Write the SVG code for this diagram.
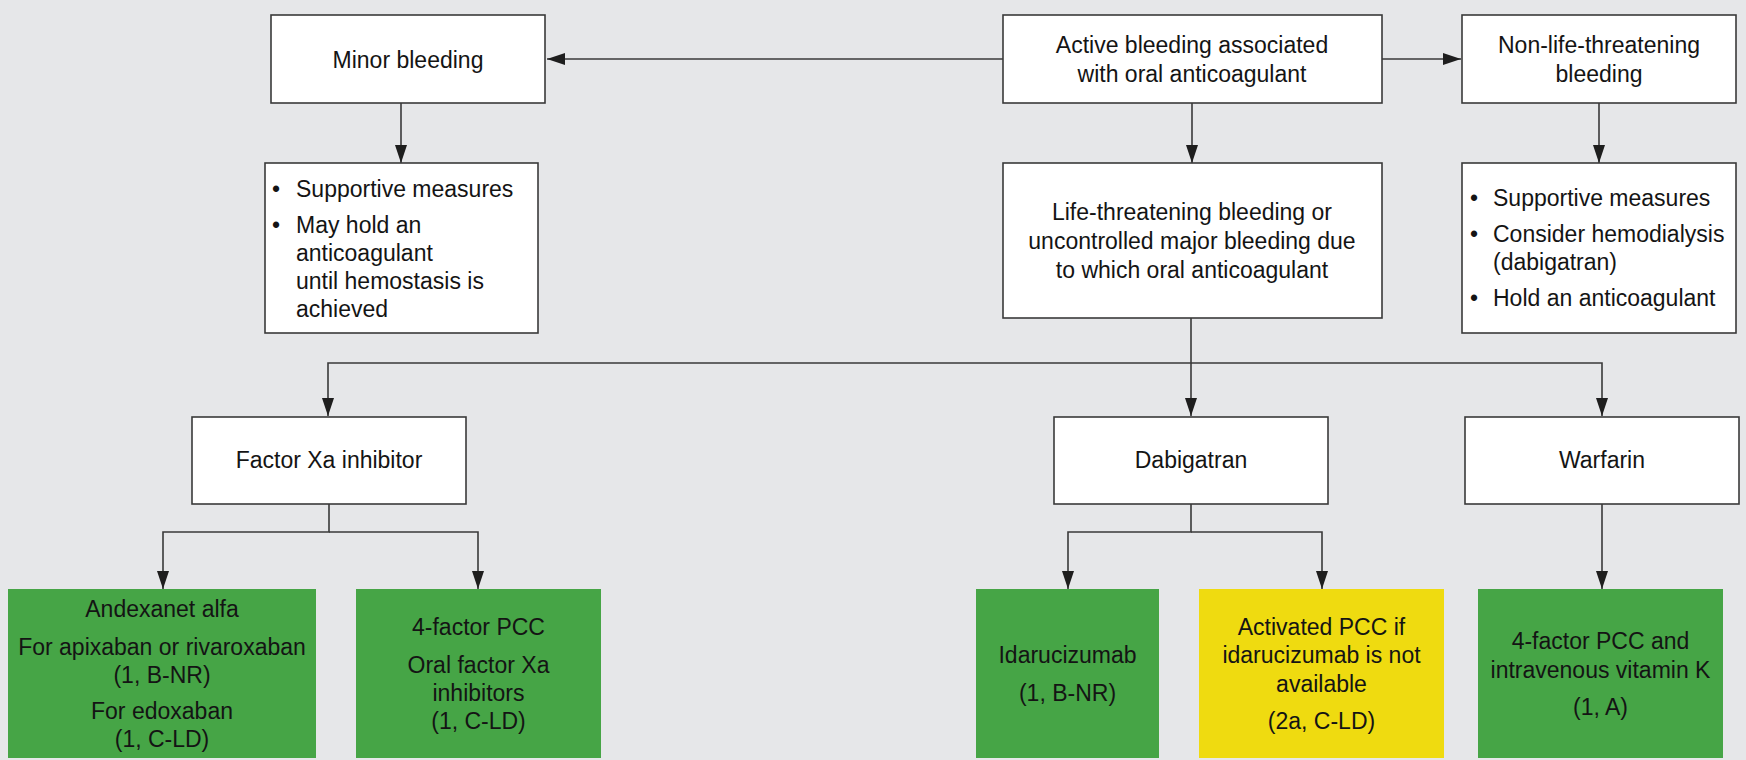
<svg xmlns="http://www.w3.org/2000/svg" width="1746" height="760" viewBox="0 0 1746 760">
<style>
.bg{fill:#e6e7e9}
.box{fill:#ffffff;stroke:#3a3a3a;stroke-width:1.6}
.green{fill:#46a546}
.yellow{fill:#efdb10}
.t{font-family:"Liberation Sans",Arial,sans-serif;font-size:23px;fill:#141414}
.c{text-anchor:middle}
.conn{fill:none;stroke:#3a3a3a;stroke-width:1.6}
</style>
<defs>
<marker id="arr" markerUnits="userSpaceOnUse" markerWidth="18" markerHeight="12" refX="18" refY="6" orient="auto">
<path d="M0,0 L18,6 L0,12 z" fill="#1e1e1e"/>
</marker>
</defs>
<rect class="bg" x="0" y="0" width="1746" height="760"/>

<g id="connectors" class="conn">
<path d="M1003 59 H547" marker-end="url(#arr)"/>
<path d="M1382 59 H1461" marker-end="url(#arr)"/>
<path d="M401 103 V163" marker-end="url(#arr)"/>
<path d="M1192 103 V163" marker-end="url(#arr)"/>
<path d="M1599 103 V163" marker-end="url(#arr)"/>
<path d="M1191 318 V363 H328 V416" marker-end="url(#arr)"/>
<path d="M1191 363 H1602 V416" marker-end="url(#arr)"/>
<path d="M1191 363 V416" marker-end="url(#arr)"/>
<path d="M329 504 V532 H163 V589" marker-end="url(#arr)"/>
<path d="M329 532 H478 V589" marker-end="url(#arr)"/>
<path d="M1191 504 V532 H1068 V589" marker-end="url(#arr)"/>
<path d="M1191 532 H1322 V589" marker-end="url(#arr)"/>
<path d="M1602 504 V589" marker-end="url(#arr)"/>
</g>

<g id="minor">
<rect class="box" x="271" y="15" width="274" height="88"/>
<text class="t c" x="408" y="68">Minor bleeding</text>
</g>

<g id="active">
<rect class="box" x="1003" y="15" width="379" height="88"/>
<text class="t c" x="1192" y="53">Active bleeding associated</text>
<text class="t c" x="1192" y="82">with oral anticoagulant</text>
</g>

<g id="nonlife">
<rect class="box" x="1462" y="15" width="274" height="88"/>
<text class="t c" x="1599" y="53">Non-life-threatening</text>
<text class="t c" x="1599" y="82">bleeding</text>
</g>

<g id="minor-actions">
<rect class="box" x="265" y="163" width="273" height="170"/>
<text class="t c" x="276" y="197">•</text>
<text class="t" x="296" y="197">Supportive measures</text>
<text class="t c" x="276" y="233">•</text>
<text class="t" x="296" y="233">May hold an</text>
<text class="t" x="296" y="261">anticoagulant</text>
<text class="t" x="296" y="289">until hemostasis is</text>
<text class="t" x="296" y="317">achieved</text>
</g>

<g id="life">
<rect class="box" x="1003" y="163" width="379" height="155"/>
<text class="t c" x="1192" y="220">Life-threatening bleeding or</text>
<text class="t c" x="1192" y="249">uncontrolled major bleeding due</text>
<text class="t c" x="1192" y="278">to which oral anticoagulant</text>
</g>

<g id="nonlife-actions">
<rect class="box" x="1462" y="163" width="274" height="170"/>
<text class="t c" x="1474" y="206">•</text>
<text class="t" x="1493" y="206">Supportive measures</text>
<text class="t c" x="1474" y="242">•</text>
<text class="t" x="1493" y="242">Consider hemodialysis</text>
<text class="t" x="1493" y="270">(dabigatran)</text>
<text class="t c" x="1474" y="306">•</text>
<text class="t" x="1493" y="306">Hold an anticoagulant</text>
</g>

<g id="factorxa">
<rect class="box" x="192" y="417" width="274" height="87"/>
<text class="t c" x="329" y="468">Factor Xa inhibitor</text>
</g>

<g id="dabigatran">
<rect class="box" x="1054" y="417" width="274" height="87"/>
<text class="t c" x="1191" y="468">Dabigatran</text>
</g>

<g id="warfarin">
<rect class="box" x="1465" y="417" width="274" height="87"/>
<text class="t c" x="1602" y="468">Warfarin</text>
</g>

<g id="andexanet">
<rect class="green" x="8" y="589" width="308" height="169"/>
<text class="t c" x="162" y="617">Andexanet alfa</text>
<text class="t c" x="162" y="655">For apixaban or rivaroxaban</text>
<text class="t c" x="162" y="683">(1, B-NR)</text>
<text class="t c" x="162" y="719">For edoxaban</text>
<text class="t c" x="162" y="747">(1, C-LD)</text>
</g>

<g id="pcc4-xa">
<rect class="green" x="356" y="589" width="245" height="169"/>
<text class="t c" x="478.5" y="635">4-factor PCC</text>
<text class="t c" x="478.5" y="673">Oral factor Xa</text>
<text class="t c" x="478.5" y="701">inhibitors</text>
<text class="t c" x="478.5" y="729">(1, C-LD)</text>
</g>

<g id="idarucizumab">
<rect class="green" x="976" y="589" width="183" height="169"/>
<text class="t c" x="1067.5" y="663">Idarucizumab</text>
<text class="t c" x="1067.5" y="701">(1, B-NR)</text>
</g>

<g id="activated-pcc">
<rect class="yellow" x="1199" y="589" width="245" height="169"/>
<text class="t c" x="1321.5" y="635">Activated PCC if</text>
<text class="t c" x="1321.5" y="663">idarucizumab is not</text>
<text class="t c" x="1321.5" y="692">available</text>
<text class="t c" x="1321.5" y="729">(2a, C-LD)</text>
</g>

<g id="pcc4-warfarin">
<rect class="green" x="1478" y="589" width="245" height="169"/>
<text class="t c" x="1600.5" y="649">4-factor PCC and</text>
<text class="t c" x="1600.5" y="678">intravenous vitamin K</text>
<text class="t c" x="1600.5" y="715">(1, A)</text>
</g>
</svg>
